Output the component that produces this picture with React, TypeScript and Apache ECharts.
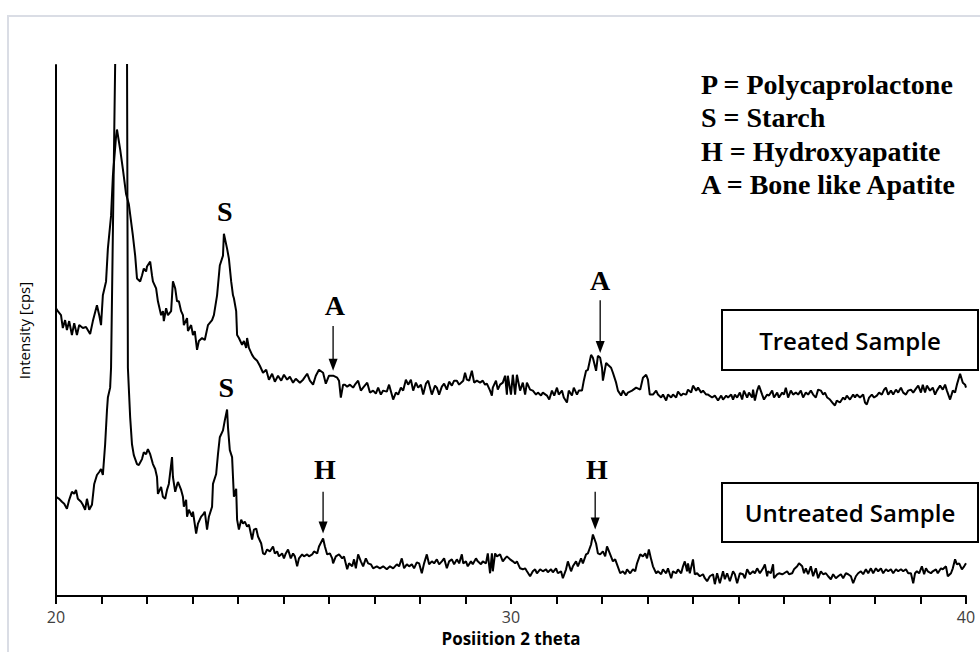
import React, { useEffect, useRef } from "react";
import * as echarts from "echarts";

// 2-theta (deg) vs intensity (arbitrary cps units)
const treated: number[][] = [
[20.00,290],[20.04,287],[20.11,283],[20.15,270],[20.20,278],[20.24,268],[20.29,277],[20.35,263],[20.40,275],[20.46,263],[20.51,273],[20.59,270],[20.66,271],[20.75,264],[20.81,277],[20.90,293],[20.95,283],[20.99,273],[21.03,303],[21.10,317],[21.14,350],[21.21,383],[21.25,423],[21.32,463],[21.34,470],[21.41,450],[21.47,430],[21.54,405],[21.60,395],[21.69,363],[21.74,343],[21.78,320],[21.85,317],[21.89,323],[21.93,330],[21.98,327],[22.00,332],[22.07,337],[22.11,323],[22.13,317],[22.20,310],[22.24,297],[22.31,283],[22.35,287],[22.37,277],[22.42,290],[22.46,283],[22.53,287],[22.57,317],[22.62,310],[22.66,297],[22.70,297],[22.75,287],[22.79,283],[22.81,273],[22.88,280],[22.90,267],[22.97,273],[23.01,263],[23.05,267],[23.10,248],[23.14,257],[23.21,260],[23.27,258],[23.34,273],[23.43,278],[23.47,283],[23.54,303],[23.60,333],[23.67,343],[23.69,365],[23.76,350],[23.80,340],[23.85,317],[23.89,303],[23.91,300],[23.96,287],[23.98,263],[24.02,260],[24.09,253],[24.13,257],[24.18,250],[24.20,260],[24.24,250],[24.31,243],[24.35,240],[24.42,237],[24.48,232],[24.55,225],[24.62,228],[24.68,218],[24.75,224],[24.81,216],[24.88,222],[24.95,217],[25.01,223],[25.08,218],[25.14,221],[25.21,215],[25.27,219],[25.36,215],[25.43,218],[25.52,224],[25.58,217],[25.65,213],[25.71,222],[25.78,228],[25.87,225],[25.93,214],[26.00,222],[26.09,222],[26.18,220],[26.22,217],[26.26,200],[26.31,213],[26.35,213],[26.40,211],[26.46,213],[26.53,210],[26.57,213],[26.64,217],[26.70,207],[26.75,210],[26.84,215],[26.90,205],[26.97,207],[27.03,204],[27.08,210],[27.14,203],[27.19,207],[27.27,206],[27.32,213],[27.38,203],[27.41,198],[27.47,205],[27.52,203],[27.58,210],[27.63,207],[27.69,218],[27.74,213],[27.80,218],[27.85,207],[27.91,215],[27.96,210],[28.02,213],[28.07,203],[28.13,214],[28.18,217],[28.26,203],[28.33,212],[28.37,210],[28.42,203],[28.48,211],[28.53,214],[28.59,208],[28.64,216],[28.70,212],[28.75,217],[28.81,217],[28.86,213],[28.95,217],[28.99,225],[29.03,218],[29.08,217],[29.14,227],[29.19,215],[29.25,217],[29.32,215],[29.38,217],[29.43,213],[29.47,214],[29.54,207],[29.58,202],[29.60,210],[29.67,217],[29.71,208],[29.76,213],[29.82,215],[29.87,222],[29.91,203],[29.93,222],[30.00,203],[30.04,223],[30.09,203],[30.13,223],[30.20,207],[30.26,215],[30.31,203],[30.35,215],[30.42,208],[30.48,207],[30.55,203],[30.59,205],[30.66,202],[30.70,205],[30.79,202],[30.84,198],[30.90,207],[30.95,202],[31.01,210],[31.05,203],[31.12,207],[31.16,200],[31.23,195],[31.27,207],[31.34,202],[31.38,210],[31.45,203],[31.49,207],[31.56,207],[31.60,217],[31.65,227],[31.69,228],[31.76,243],[31.80,240],[31.87,227],[31.91,242],[31.96,240],[32.00,230],[32.02,217],[32.09,235],[32.13,233],[32.20,230],[32.24,225],[32.31,215],[32.35,207],[32.42,202],[32.46,207],[32.53,202],[32.57,205],[32.66,207],[32.75,210],[32.84,208],[32.90,220],[32.97,223],[33.01,218],[33.05,203],[33.12,203],[33.19,207],[33.23,203],[33.30,200],[33.34,203],[33.41,197],[33.45,203],[33.52,200],[33.56,203],[33.63,200],[33.67,206],[33.74,202],[33.78,204],[33.85,203],[33.89,208],[33.96,205],[34.00,212],[34.07,207],[34.11,210],[34.18,205],[34.22,207],[34.29,203],[34.33,203],[34.42,200],[34.48,202],[34.55,197],[34.62,202],[34.66,198],[34.73,202],[34.77,200],[34.84,203],[34.88,198],[34.92,203],[34.97,200],[35.03,205],[35.08,198],[35.12,207],[35.19,200],[35.23,205],[35.30,200],[35.32,208],[35.36,197],[35.41,207],[35.45,212],[35.52,203],[35.56,198],[35.63,203],[35.67,202],[35.74,207],[35.78,200],[35.85,205],[35.89,200],[35.96,205],[36.00,203],[36.04,210],[36.09,200],[36.15,207],[36.20,203],[36.26,205],[36.31,203],[36.37,207],[36.42,200],[36.48,205],[36.53,203],[36.59,207],[36.64,203],[36.70,200],[36.75,208],[36.81,207],[36.86,203],[36.90,205],[36.95,200],[37.01,198],[37.08,194],[37.12,192],[37.16,197],[37.23,195],[37.30,200],[37.34,198],[37.38,202],[37.45,198],[37.52,203],[37.56,200],[37.60,203],[37.67,200],[37.74,203],[37.78,195],[37.82,193],[37.87,200],[37.93,203],[37.98,200],[38.04,202],[38.09,205],[38.15,203],[38.20,208],[38.24,210],[38.29,203],[38.35,207],[38.40,203],[38.46,208],[38.51,205],[38.57,210],[38.62,205],[38.68,203],[38.73,207],[38.79,208],[38.84,205],[38.90,209],[38.95,212],[39.01,205],[39.05,213],[39.10,205],[39.14,212],[39.21,207],[39.27,210],[39.32,203],[39.36,207],[39.43,212],[39.49,208],[39.54,213],[39.58,207],[39.65,198],[39.71,207],[39.76,205],[39.80,213],[39.87,224],[39.93,215],[39.98,213],[40.00,210]
];

const untreated: number[][] = [
[20.00,100],[20.07,98],[20.13,95],[20.18,93],[20.24,88],[20.29,97],[20.35,105],[20.40,103],[20.44,107],[20.48,98],[20.55,95],[20.59,92],[20.64,87],[20.68,98],[20.73,87],[20.79,92],[20.84,113],[20.90,122],[20.95,125],[20.99,128],[21.03,122],[21.08,153],[21.12,187],[21.14,200],[21.19,210],[21.21,230],[21.30,535],[21.34,640],[21.45,900],[21.54,640],[21.56,560],[21.58,230],[21.63,180],[21.67,153],[21.71,142],[21.78,133],[21.82,132],[21.89,138],[21.93,145],[21.98,143],[22.02,148],[22.07,143],[22.13,133],[22.18,128],[22.22,120],[22.24,103],[22.31,110],[22.35,100],[22.40,98],[22.44,107],[22.48,113],[22.55,140],[22.57,120],[22.62,105],[22.66,112],[22.68,115],[22.75,107],[22.79,100],[22.81,90],[22.86,97],[22.88,80],[22.92,87],[22.99,80],[23.01,85],[23.08,63],[23.12,73],[23.19,80],[23.23,82],[23.27,85],[23.32,67],[23.36,80],[23.43,90],[23.45,113],[23.52,123],[23.56,143],[23.60,160],[23.67,167],[23.71,177],[23.76,188],[23.78,170],[23.82,147],[23.87,140],[23.89,120],[23.91,100],[23.96,108],[23.98,77],[24.02,67],[24.07,77],[24.11,73],[24.15,75],[24.20,70],[24.24,72],[24.31,57],[24.35,67],[24.40,68],[24.44,60],[24.51,53],[24.55,43],[24.59,42],[24.64,47],[24.70,45],[24.77,50],[24.81,43],[24.86,45],[24.90,40],[24.97,43],[25.01,38],[25.05,43],[25.10,47],[25.16,38],[25.21,43],[25.25,40],[25.30,30],[25.34,38],[25.41,42],[25.45,40],[25.52,42],[25.56,40],[25.63,42],[25.67,45],[25.74,43],[25.78,50],[25.87,58],[25.91,50],[25.96,42],[26.02,43],[26.07,38],[26.09,33],[26.15,40],[26.22,42],[26.29,38],[26.33,40],[26.40,27],[26.44,33],[26.51,30],[26.55,37],[26.59,28],[26.64,42],[26.70,35],[26.75,30],[26.81,38],[26.86,33],[26.92,32],[26.97,28],[27.05,30],[27.12,28],[27.19,30],[27.27,27],[27.34,30],[27.41,28],[27.49,32],[27.54,30],[27.60,38],[27.65,28],[27.71,32],[27.76,30],[27.82,32],[27.87,28],[27.93,34],[27.98,33],[28.04,23],[28.09,33],[28.15,42],[28.20,32],[28.26,35],[28.31,33],[28.37,37],[28.42,32],[28.48,35],[28.53,38],[28.59,28],[28.64,35],[28.70,37],[28.75,32],[28.81,37],[28.86,33],[28.92,42],[28.95,33],[29.01,35],[29.05,30],[29.12,35],[29.16,32],[29.23,38],[29.27,35],[29.34,32],[29.38,35],[29.45,33],[29.49,43],[29.54,23],[29.58,43],[29.60,25],[29.65,43],[29.69,40],[29.76,42],[29.82,35],[29.87,38],[29.91,40],[29.98,37],[30.04,35],[30.09,33],[30.13,35],[30.20,28],[30.26,27],[30.31,28],[30.35,25],[30.42,20],[30.48,25],[30.53,27],[30.57,23],[30.64,27],[30.70,25],[30.77,27],[30.81,24],[30.88,27],[30.92,24],[30.99,28],[31.03,23],[31.10,25],[31.14,18],[31.21,27],[31.25,35],[31.32,25],[31.36,30],[31.43,35],[31.47,30],[31.54,38],[31.58,33],[31.65,42],[31.69,43],[31.76,52],[31.80,62],[31.87,53],[31.91,43],[31.96,42],[32.02,45],[32.07,40],[32.11,50],[32.18,42],[32.24,35],[32.29,37],[32.33,32],[32.40,23],[32.46,25],[32.51,22],[32.55,27],[32.62,23],[32.68,27],[32.73,25],[32.77,33],[32.84,42],[32.90,40],[32.95,43],[32.99,38],[33.03,47],[33.08,37],[33.12,30],[33.19,23],[33.23,25],[33.30,22],[33.34,27],[33.41,23],[33.45,28],[33.52,18],[33.56,25],[33.63,23],[33.67,27],[33.74,23],[33.78,30],[33.82,35],[33.87,25],[33.89,33],[33.93,23],[34.00,37],[34.04,22],[34.09,23],[34.15,20],[34.22,22],[34.26,18],[34.31,15],[34.37,20],[34.44,22],[34.48,12],[34.53,23],[34.59,13],[34.66,25],[34.70,17],[34.75,23],[34.81,15],[34.88,25],[34.92,22],[34.97,13],[35.03,23],[35.10,22],[35.14,18],[35.19,27],[35.25,22],[35.32,25],[35.36,23],[35.41,28],[35.47,23],[35.54,28],[35.58,32],[35.63,20],[35.65,25],[35.71,23],[35.76,32],[35.78,18],[35.85,22],[35.89,23],[35.96,22],[36.00,23],[36.07,25],[36.11,22],[36.18,23],[36.22,27],[36.29,30],[36.33,33],[36.40,30],[36.44,23],[36.48,28],[36.53,22],[36.59,30],[36.64,20],[36.70,28],[36.75,18],[36.81,25],[36.86,22],[36.92,23],[36.97,20],[37.03,17],[37.08,22],[37.14,18],[37.19,20],[37.25,22],[37.30,18],[37.36,23],[37.41,22],[37.47,20],[37.52,13],[37.58,20],[37.63,23],[37.69,25],[37.74,22],[37.80,27],[37.85,23],[37.91,28],[37.96,23],[38.02,28],[38.07,25],[38.13,28],[38.18,23],[38.24,27],[38.29,25],[38.35,27],[38.40,23],[38.46,27],[38.51,25],[38.57,27],[38.62,25],[38.68,27],[38.73,23],[38.79,23],[38.84,13],[38.88,23],[38.92,25],[38.97,23],[39.03,30],[39.08,22],[39.12,28],[39.16,25],[39.23,23],[39.27,25],[39.34,27],[39.38,23],[39.45,28],[39.49,27],[39.56,30],[39.60,20],[39.67,23],[39.71,28],[39.76,37],[39.80,32],[39.85,33],[39.91,27],[39.96,30],[40.00,33]
];

const xTickLabels = [20, 30, 40];
const legendLines = [
  "P = Polycaprolactone",
  "S = Starch",
  "H = Hydroxyapatite",
  "A = Bone like Apatite",
];
// peak letters: [label, 2theta, intensity]
const peakLetters: [string, number, number][] = [
  ["S", 23.71, 387],
  ["A", 26.13, 293],
  ["A", 31.96, 318],
  ["S", 23.74, 210],
  ["H", 25.91, 128],
  ["H", 31.89, 128],
];
// arrows: [2theta, from intensity, to intensity]
const peakArrows: [number, number, number][] = [
  [26.09, 272, 227],
  [31.96, 298, 245],
  [25.87, 105, 63],
  [31.85, 105, 67],
];
const sampleNames = ["Treated Sample", "Untreated Sample"];

export default function App() {
  const ref = useRef<HTMLDivElement>(null);
  useEffect(() => {
    if (!ref.current) return;
    const chart = echarts.init(ref.current, null, { renderer: "svg" });
    const serif = '"Liberation Serif", "Times New Roman", serif';
    const sans = '"Open Sans", "Noto Sans", sans-serif';
    chart.setOption({
      animation: false,
      backgroundColor: "#ffffff",
      grid: { left: 56, right: 14, top: 65, bottom: 52, containLabel: false },
      xAxis: {
        type: "value",
        min: 20,
        max: 40,
        interval: 1,
        name: "Posiition 2 theta",
        nameLocation: "middle",
        nameGap: 32,
        nameTextStyle: { fontFamily: sans, fontWeight: "bold", fontSize: 17, color: "#000" },
        axisLine: { show: true, onZero: false, lineStyle: { color: "#000", width: 2 } },
        axisTick: { show: true, inside: false, length: 8, lineStyle: { color: "#000", width: 2 } },
        axisLabel: {
          margin: 13,
          fontFamily: sans,
          fontSize: 16,
          color: "#404040",
          formatter: (v: number) => (xTickLabels.includes(v) ? String(v) : ""),
        },
        splitLine: { show: false },
      },
      yAxis: {
        type: "value",
        min: 0,
        max: 535,
        name: "Intensity [cps]",
        nameLocation: "middle",
        nameRotate: 90,
        nameGap: 25,
        nameTextStyle: { fontFamily: sans, fontSize: 15, color: "#000" },
        axisLine: { show: true, lineStyle: { color: "#000", width: 2 } },
        axisTick: { show: false },
        axisLabel: { show: false },
        splitLine: { show: false },
      },
      series: [
        {
          name: "Treated Sample",
          type: "line",
          data: treated,
          showSymbol: false,
          symbol: "none",
          clip: true,
          lineStyle: { color: "#000", width: 2 },
        },
        {
          name: "Untreated Sample",
          type: "line",
          data: untreated,
          showSymbol: false,
          symbol: "none",
          clip: true,
          lineStyle: { color: "#000", width: 2 },
        },
      ],
    });

    const px = (x: number, y: number) => chart.convertToPixel({ gridIndex: 0 }, [x, y]) as number[];
    const graphics: any[] = [];
    graphics.push({
      type: "rect",
      shape: { x: 8, y: 16, width: 990, height: 660 },
      style: { fill: "none", stroke: "#dadde5", lineWidth: 2 },
      z: -1,
      silent: true,
    });
    legendLines.forEach((t, i) => {
      graphics.push({
        type: "text",
        x: 701,
        y: 84 + i * 33.5,
        style: { text: t, font: `bold 28px ${serif}`, fill: "#000", textAlign: "left", textVerticalAlign: "middle" },
      });
    });
    peakLetters.forEach(([t, x, y]) => {
      const p = px(x, y);
      graphics.push({
        type: "text",
        x: p[0],
        y: p[1],
        style: { text: t, font: `bold 28px ${serif}`, fill: "#000", textAlign: "center", textVerticalAlign: "middle" },
      });
    });
    peakArrows.forEach(([x, y0, y1]) => {
      const a = px(x, y0);
      const b = px(x, y1);
      graphics.push({
        type: "line",
        shape: { x1: a[0], y1: a[1], x2: b[0], y2: b[1] - 10 },
        style: { stroke: "#000", lineWidth: 1.3 },
      });
      graphics.push({
        type: "polygon",
        shape: { points: [[b[0] - 4.5, b[1] - 12], [b[0] + 4.5, b[1] - 12], [b[0], b[1]]] },
        style: { fill: "#000" },
      });
    });
    const boxes = [
      { y: 310, h: 60 },
      { y: 483, h: 59 },
    ];
    sampleNames.forEach((t, i) => {
      graphics.push({
        type: "rect",
        shape: { x: 722, y: boxes[i].y, width: 256, height: boxes[i].h },
        style: { fill: "#fff", stroke: "#000", lineWidth: 2 },
      });
      graphics.push({
        type: "text",
        x: 850,
        y: boxes[i].y + boxes[i].h / 2,
        style: { text: t, font: `600 24px ${sans}`, fill: "#000", textAlign: "center", textVerticalAlign: "middle" },
      });
    });
    chart.setOption({ graphic: graphics });

    return () => chart.dispose();
  }, []);
  return (
    <div
      ref={ref}
      style={{ position: "absolute", left: 0, top: 0, width: 980, height: 652, background: "#fff" }}
    />
  );
}
